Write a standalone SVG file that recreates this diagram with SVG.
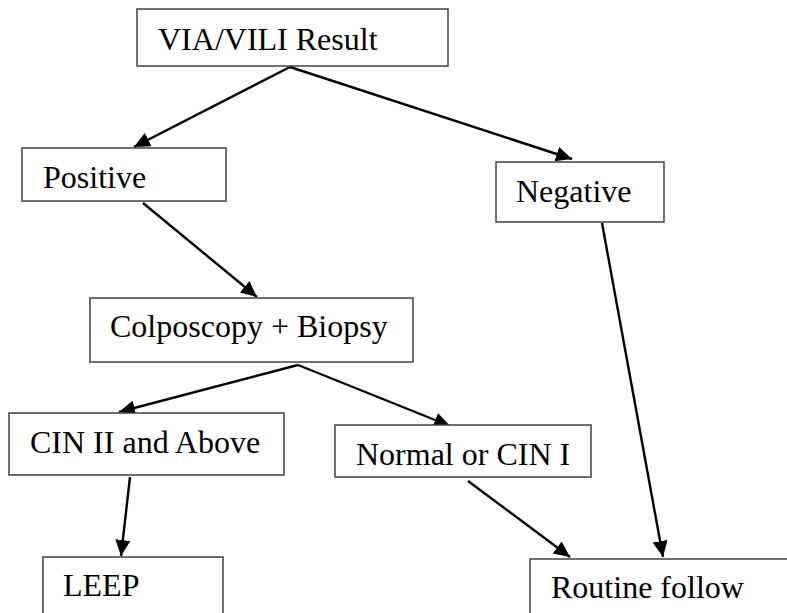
<svg xmlns="http://www.w3.org/2000/svg" width="787" height="613" viewBox="0 0 787 613">
<defs>
<style>
.box{fill:#fff;stroke:#404040;stroke-width:1.5}
.t{font-family:"Liberation Serif","Times New Roman",serif;font-size:32px;fill:#000}
.c{stroke:#000;stroke-width:2.4;fill:none;marker-end:url(#ah)}
</style>
<marker id="ah" markerWidth="17" markerHeight="17" refX="16" refY="8.5" orient="auto" markerUnits="userSpaceOnUse">
<path d="M0,1 L16,8.5 L0,16 Z" fill="#000"/>
</marker>
</defs>
<rect width="787" height="613" fill="#fff"/>
<g id="connectors">
<line class="c" x1="290" y1="67" x2="134" y2="147"/>
<line class="c" x1="290" y1="67" x2="572" y2="159"/>
<line class="c" x1="143" y1="203" x2="257" y2="297"/>
<line class="c" x1="602" y1="223" x2="663" y2="557"/>
<line class="c" x1="298" y1="365" x2="119" y2="412"/>
<line class="c" x1="298" y1="365" x2="450" y2="426"/>
<line class="c" x1="130" y1="477" x2="121" y2="556"/>
<line class="c" x1="468" y1="481" x2="570" y2="557"/>
</g>
<g id="n-via"><rect class="box" x="137" y="9" width="311" height="57"/><text class="t" x="158" y="50">VIA/VILI Result</text></g>
<g id="n-positive"><rect class="box" x="22" y="148" width="204" height="53"/><text class="t" x="43" y="188">Positive</text></g>
<g id="n-negative"><rect class="box" x="496" y="162" width="168" height="60"/><text class="t" x="516" y="202">Negative</text></g>
<g id="n-colpo"><rect class="box" x="90" y="298" width="323" height="64"/><text class="t" x="110" y="337">Colposcopy + Biopsy</text></g>
<g id="n-cin2"><rect class="box" x="9" y="413" width="275" height="62"/><text class="t" x="30" y="453">CIN II and Above</text></g>
<g id="n-normal"><rect class="box" x="335" y="425" width="256" height="52"/><text class="t" x="356" y="465">Normal or CIN I</text></g>
<g id="n-leep"><rect class="box" x="43" y="557" width="180" height="70"/><text class="t" x="63" y="596">LEEP</text></g>
<g id="n-routine"><rect class="box" x="530" y="559" width="280" height="70"/><text class="t" x="551" y="598">Routine follow</text></g>
</svg>
